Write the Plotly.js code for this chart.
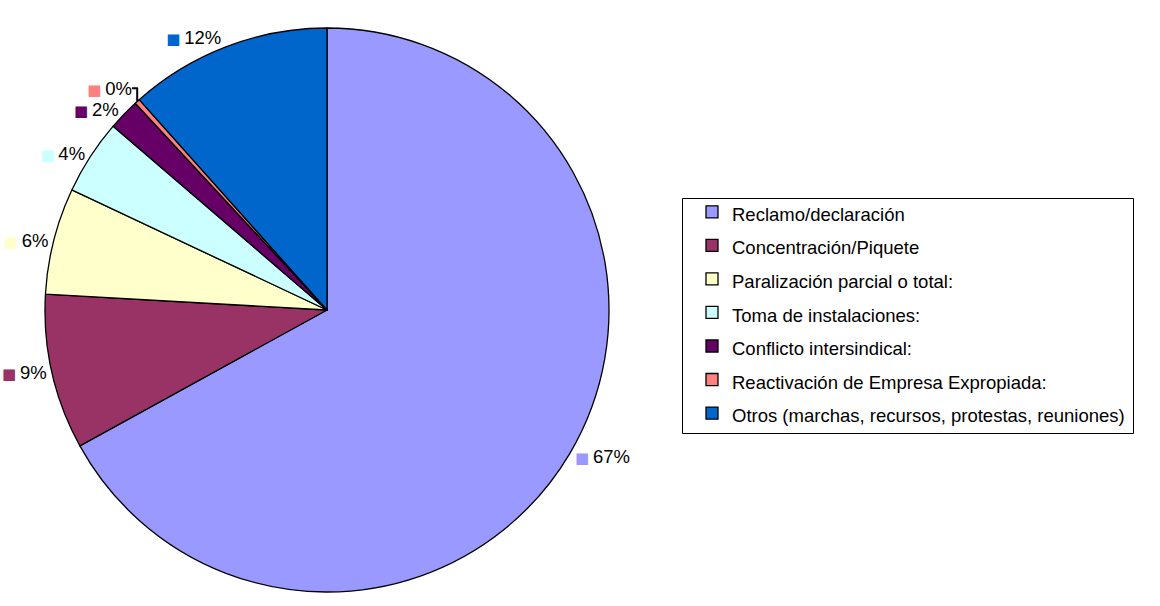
<!DOCTYPE html>
<html>
<head>
<meta charset="utf-8">
<script src="https://cdn.plot.ly/plotly-3.0.1.min.js"></script>
<style>
  html, body { margin: 0; padding: 0; background: #fff; }
  #chart { width: 1160px; height: 606px; }
</style>
</head>
<body>
<div id="chart"></div>
<script>
// Categories (legend labels)
const categories = [
  "Reclamo/declaración",
  "Concentración/Piquete",
  "Paralización parcial o total:",
  "Toma de instalaciones:",
  "Conflicto intersindical:",
  "Reactivación de Empresa Expropiada:",
  "Otros (marchas, recursos, protestas, reuniones)"
];
// Shares (percent)
const shares = [67.0, 8.9, 6.1, 4.3, 1.8, 0.3, 11.6];
// Slice colours
const sliceColors = ["#9999FF", "#993366", "#FFFFCC", "#CCFFFF", "#660066", "#FF8080", "#0066CC"];

const FONT = "Liberation Sans, Arial, sans-serif";
const chips = sliceColors.map(c =>
  '<span style="color:' + c + ';font-family:DejaVu Sans;font-size:15px">\u25A0</span>\u2009');
const legendLabels = categories.map(t => '<span style="font-size:18.5px">' + t + '</span>');

const W = 1160, H = 606;
const cx = 327, cy = 310, r = 282;

const trace = {
  type: "pie",
  labels: legendLabels,
  values: shares,
  sort: false,
  direction: "clockwise",
  rotation: 0,
  marker: { colors: sliceColors, line: { color: "#000000", width: 1.3 } },
  customdata: chips,
  texttemplate: "%{customdata}%{percent:.0%}",
  textposition: "outside",
  textfont: { family: FONT, size: 18.5, color: "#000000" },
  hoverinfo: "none",
  automargin: false,
  domain: {
    x: [(cx - r) / W, (cx + r) / W],
    y: [(H - cy - r) / H, (H - cy + r) / H]
  }
};

const layout = {
  width: W,
  height: H,
  margin: { l: 0, r: 0, t: 0, b: 0 },
  paper_bgcolor: "#ffffff",
  font: { family: FONT, color: "#000000" },
  showlegend: true,
  legend: {
    x: 682 / W,
    y: 1 - 190 / H,
    xanchor: "left",
    yanchor: "top",
    bgcolor: "rgba(0,0,0,0)",
    borderwidth: 0,
    indentation: 10,
    font: { family: FONT, size: 23.5, color: "#000000" },
    traceorder: "normal"
  },
  shapes: [{
    type: "rect", xref: "paper", yref: "paper",
    x0: 682.5 / W, x1: 1133.5 / W,
    y0: 1 - 433.5 / H, y1: 1 - 198.5 / H,
    line: { color: "#000000", width: 1 },
    fillcolor: "rgba(0,0,0,0)",
    layer: "below"
  }]
};

Plotly.newPlot("chart", [trace], layout, { displayModeBar: false, staticPlot: true });
</script>
</body>
</html>
